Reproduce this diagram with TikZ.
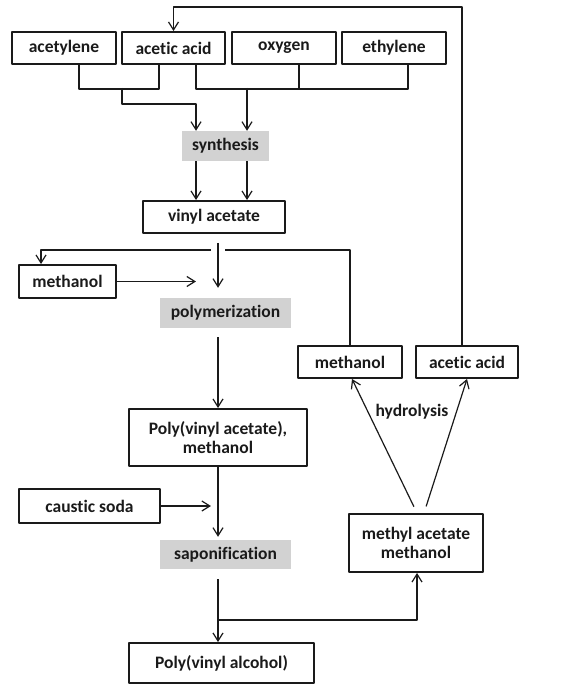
\documentclass[tikz,border=0pt]{standalone}
\usepackage{fontspec}
\setmainfont{Carlito}[Ligatures=NoCommon]
\usetikzlibrary{arrows.meta}
\definecolor{ink}{HTML}{1A1A1A}
\definecolor{stage}{HTML}{D2D2D2}
\begin{document}
\begin{tikzpicture}[x=1pt, y=-1pt, line join=round,
		every node/.style={font=\fontsize{17.5}{18.5}\selectfont\bfseries, text=ink, inner sep=0pt, align=center},
		box/.style={draw=ink, line width=1.9pt},
		stagebox/.style={fill=stage},
		arr/.style={draw=ink, line width=1.2pt, -{Straight Barb[length=8pt,width=10pt]}},
		lin/.style={draw=ink, line width=1.2pt}]
		\useasboundingbox (0,0) rectangle (573,684);
		\node[box, minimum width=104pt, minimum height=32pt] (acetylene) at (64,48) {acetylene};
		\node[box, minimum width=103pt, minimum height=32pt] (acid) at (173.5,48) {acetic acid};
		\node[box, minimum width=104pt, minimum height=32pt] (oxygen) at (284,48) {oxygen};
		\node[box, minimum width=104pt, minimum height=32pt] (ethylene) at (394,48) {ethylene};
		\node[stagebox, minimum width=87pt, minimum height=30pt] (synth) at (225.5,146) {synthesis};
		\node[box, minimum width=142pt, minimum height=32pt] (vac) at (214,217) {vinyl acetate};
		\node[box, minimum width=97pt, minimum height=33pt] (meoh) at (67.5,281.5) {methanol};
		\node[stagebox, minimum width=131pt, minimum height=30pt] (polym) at (225.5,313) {polymerization};
		\node[box, minimum width=104pt, minimum height=32pt] (meohr) at (350,362) {methanol};
		\node[box, minimum width=102pt, minimum height=32pt] (acidr) at (467,362) {acetic acid};
		\node[box, minimum width=178pt, minimum height=57pt] (pvac) at (218,437.5) {Poly(vinyl acetate),\\methanol};
		\node[box, minimum width=141pt, minimum height=34pt] (soda) at (89.5,506) {caustic soda};
		\node[stagebox, minimum width=131pt, minimum height=29pt] (sapon) at (225.5,554.5) {saponification};
		\node[box, minimum width=134pt, minimum height=58pt] (meac) at (416,543) {methyl acetate\\methanol};
		\node[box, minimum width=185pt, minimum height=40pt] (pva) at (221.5,663) {Poly(vinyl alcohol)};
		\node (hyd) at (412,412) {hydrolysis};
		\coordinate (main) at (218,0);
		\coordinate (split) at (218,620);
		\draw [lin] ([xshift=15]acetylene.south) -- ++(0,24) -| ([xshift=-14.5]acid.south);
		\draw [arr] (122,88) |- (196,104) -- ([xshift=-29.5]synth.north);
		\draw [lin] ([xshift=22.5]acid.south) -- ++(0,24) -| ([xshift=14]ethylene.south);
		\draw [lin] ([xshift=15]oxygen.south) -- ++(0,24);
		\draw [arr] (247,88) -- ([xshift=21.5]synth.north);
		\draw [arr] ([xshift=-29.5]synth.south) coordinate (s1) -- (s1 |- vac.north);
		\draw [arr] ([xshift=21.5]synth.south) coordinate (s2) -- (s2 |- vac.north);
		\draw [arr] ([xshift=-5]acidr.north) |- (acid.north |- 0,7) -- (acid.north);
		\draw [arr] (meohr.north) |- ([xshift=-26.5]meoh.north |- 0,250) -- ([xshift=-26.5]meoh.north);
		\draw [arr, shorten <=9pt, shorten >=10pt, preaction={draw=white, line width=14pt, -}] (vac.south -| main) -- (polym.north -| main);
		\draw [arr] (meoh.east) -- ++(79,0);
		\draw [arr, shorten <=9pt] (polym.south -| main) -- (pvac.north);
		\draw [arr, shorten >=3pt] (pvac.south) -- (sapon.north -| main);
		\draw [arr] (soda.east) -- ++(50,0);
		\draw [arr, shorten <=10pt] (sapon.south -| main) -- (pva.north -| main);
		\draw [arr] (split) -| ([xshift=1]meac.south);
		\draw [arr, shorten <=7pt] ([xshift=1]meac.north) -- ([xshift=2]meohr.south);
		\draw [arr, shorten <=7pt] ([xshift=8]meac.north) -- (acidr.south);
	\end{tikzpicture}
\end{document}
